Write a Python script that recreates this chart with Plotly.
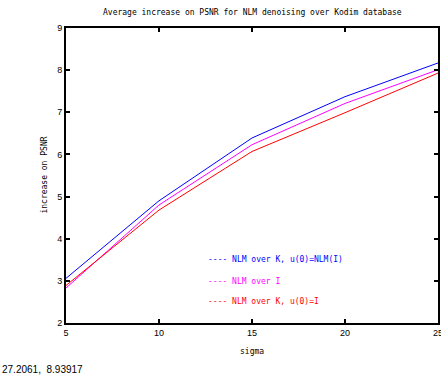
import plotly.graph_objects as go

sigma = [5, 10, 15, 20, 25]
nlm_k_u0_nlm = [3.06, 4.90, 6.39, 7.37, 8.17]
nlm_over_i = [2.83, 4.80, 6.23, 7.21, 8.01]
nlm_k_u0_i = [2.89, 4.68, 6.07, 6.99, 7.93]

names = ["NLM over K, u(0)=NLM(I)", "NLM over I", "NLM over K, u(0)=I"]
colors = ["#0000ff", "#ff00ff", "#ff0000"]
series = [nlm_k_u0_nlm, nlm_over_i, nlm_k_u0_i]

fig = go.Figure()
for nm, c, ys in zip(names, colors, series):
    fig.add_trace(go.Scatter(x=sigma, y=ys, mode="lines", name=nm,
                             line=dict(color=c, width=1)))

mono = "DejaVu Sans Mono"
sans = "Liberation Sans"

annotations = [
    dict(text="Average increase on PSNR for NLM denoising over Kodim database",
         xref="paper", yref="paper", x=0.5, y=1.051, showarrow=False,
         font=dict(family=mono, size=8, color="black"), xanchor="center", yanchor="middle"),
    dict(text="sigma", xref="paper", yref="paper", x=0.5, y=-0.098, showarrow=False,
         font=dict(family=mono, size=8, color="black"), xanchor="center", yanchor="middle"),
    dict(text="increase on PSNR", xref="paper", yref="paper", x=-0.059, y=0.5,
         showarrow=False, textangle=-90,
         font=dict(family=mono, size=8, color="black"), xanchor="center", yanchor="middle"),
    dict(text="27.2061,  8.93917", xref="paper", yref="paper", x=-0.177, y=-0.159,
         showarrow=False, font=dict(family=sans, size=10, color="black"),
         xanchor="left", yanchor="middle"),
]
leg_y = [0.2136, 0.139, 0.0712]
for nm, c, yy in zip(names, colors, leg_y):
    annotations.append(dict(text="---- " + nm, xref="paper", yref="paper", x=0.376, y=yy,
                            showarrow=False, font=dict(family=mono, size=8, color=c),
                            xanchor="left", yanchor="middle"))

fig.update_layout(
    width=441, height=377,
    margin=dict(l=66, r=3, t=28, b=54, autoexpand=False),
    paper_bgcolor="white", plot_bgcolor="white",
    showlegend=False,
    annotations=annotations,
    xaxis=dict(range=[5, 25], tickvals=[5, 10, 15, 20, 25], showgrid=False, zeroline=False,
               showline=True, linecolor="black", linewidth=2, mirror="allticks",
               ticks="inside", ticklen=4, tickwidth=2, tickcolor="black",
               ticklabeloverflow="allow", automargin=False,
               tickfont=dict(family=sans, size=9, color="black")),
    yaxis=dict(range=[2, 9], tickvals=[2, 3, 4, 5, 6, 7, 8, 9], showgrid=False, zeroline=False,
               showline=True, linecolor="black", linewidth=2, mirror="allticks",
               ticks="inside", ticklen=4, tickwidth=2, tickcolor="black",
               ticklabeloverflow="allow", automargin=False,
               tickfont=dict(family=sans, size=9, color="black")),
)

fig.write_html("out.html")
